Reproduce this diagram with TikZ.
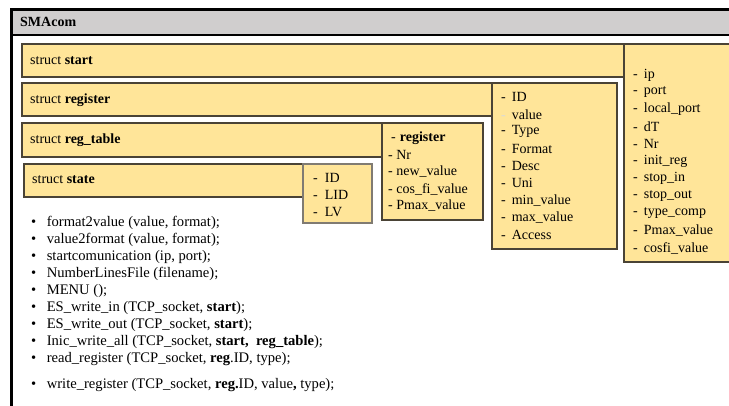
\documentclass[tikz,border=0pt]{standalone}
\usepackage{fontspec}
\setmainfont{Liberation Serif}
\definecolor{boxfill}{HTML}{FFE599}
\definecolor{boxline}{HTML}{4A4336}
\definecolor{headfill}{HTML}{D0CECE}
\begin{document}
\begin{tikzpicture}[x=1pt,y=-1pt,
  box/.style={draw=boxline,line width=1.1pt,fill=boxfill,anchor=north west,inner sep=0pt,outer sep=0pt},
  lbl/.style={anchor=west,inner sep=0pt,font=\fontsize{14}{16}\selectfont},
  item/.style={anchor=west,inner sep=0pt,font=\fontsize{14}{16}\selectfont},
  fn/.style={anchor=west,inner sep=0pt,font=\fontsize{14.6}{16}\selectfont}]
\useasboundingbox (0,0) rectangle (729,405);
\clip (0,0) rectangle (729,405);
\fill[white] (0,0) rectangle (729,405);
% outer frame and header
\node[draw=black,line width=3pt,fill=white,anchor=north west,minimum width=760pt,minimum height=440pt,inner sep=0pt,outer sep=0pt] (frame) at (11,9) {};
\node[draw=black,line width=1.3pt,fill=headfill,anchor=north west,minimum width=760pt,minimum height=26pt,inner sep=0pt,outer sep=0pt] (head) at (11,9) {};
\draw[black,line width=3pt] (frame.north west) -- (frame.north east);
\draw[black,line width=3pt] (frame.north west) -- (frame.south west);
\node[lbl,font=\fontsize{14}{16}\selectfont\bfseries] (title) at (20,22) {SMAcom};
% boxes
\node[box,minimum width=602pt,minimum height=33pt] (start) at (22,44) {};
\node[box,minimum width=130pt,minimum height=218pt] (startattr) at (624,44) {};
\node[box,minimum width=470pt,minimum height=33pt] (register) at (22,83) {};
\node[box,minimum width=125pt,minimum height=166pt] (regattr) at (492,83) {};
\node[box,minimum width=360pt,minimum height=34pt] (regtable) at (22,123) {};
\node[box,minimum width=101pt,minimum height=97pt] (tabattr) at (382,123) {};
\node[box,minimum width=279pt,minimum height=33pt] (state) at (24,164) {};
\node[box,draw=boxline!70,minimum width=69pt,minimum height=59pt] (stateattr) at (303,164) {};
% struct labels
\node[lbl] (lstart) at (30,61) {struct \textbf{start}};
\node[lbl] (lregister) at (30,100) {struct \textbf{register}};
\node[lbl] (lregtable) at (30,140) {struct \textbf{reg\_table}};
\node[lbl] (lstate) at (32,180) {struct \textbf{state}};
% start attributes
\foreach \t [count=\i from 0] in {ip,port,local\_port,dT,Nr,init\_reg,stop\_in,stop\_out,type\_comp,Pmax\_value,cosfi\_value}{
  \node[item] (sa\i) at (633,{75+\i*17.3}) {-\hspace{6pt}\t};
}
% register attributes
\foreach \t [count=\i from 0] in {ID,value,Type,Format,Desc,Uni,min\_value,max\_value,Access}{
  \node[item] (ra\i) at (501,{97+\i*17.25}) {\ifnum\i=1 \textcolor{black!15}{-}\else -\fi\hspace{6pt}\t};
}
% reg_table attributes
\node[item] (ta0) at (391,138) {-\hspace{4pt}\textbf{register}};
\foreach \t [count=\i from 1] in {Nr,new\_value,cos\_fi\_value,Pmax\_value}{
  \node[item] (ta\i) at (388,{138+\i*17}) {- \t};
}
% state attributes
\foreach \t [count=\i from 0] in {ID,LID,LV}{
  \node[item] (st\i) at (313,{178+\i*17}) {-\hspace{7pt}\t};
}
% function list
\foreach \t [count=\i from 0] in {
  {format2value (value, format);},
  {value2format (value, format);},
  {startcomunication (ip, port);},
  {NumberLinesFile (filename);},
  {MENU ();},
  {ES\_write\_in (TCP\_socket, \textbf{start});},
  {ES\_write\_out (TCP\_socket, \textbf{start});},
  {Inic\_write\_all (TCP\_socket, \textbf{start,\ \ reg\_table});},
  {read\_register (TCP\_socket, \textbf{reg}.ID, type);}}{
  \node[fn] (f\i) at (31,{223+\i*17}) {\textbullet\hspace{10.5pt}\t};
}
\node[fn] (f9) at (31,385) {\textbullet\hspace{10.5pt}write\_register (TCP\_socket, \textbf{reg.}ID, value\textbf{,} type);};
\end{tikzpicture}
\end{document}
